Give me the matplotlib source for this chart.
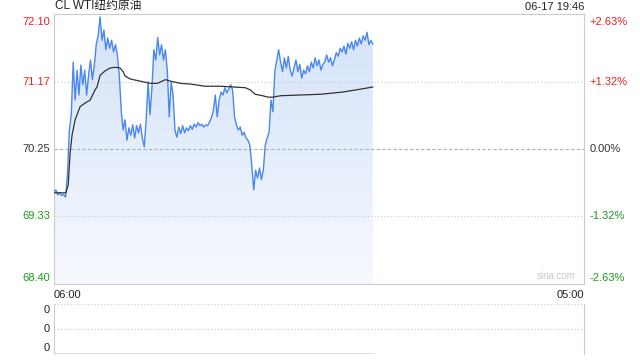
import numpy as np
import matplotlib
matplotlib.use("Agg")
import matplotlib.pyplot as plt
from matplotlib.patches import Polygon

plt.rcParams['font.family'] = ['Liberation Sans', 'Noto Sans CJK SC', 'DejaVu Sans']

# price every 5 minutes starting 06:00
prices = [69.66, 69.69, 69.62, 69.65, 69.61, 69.63, 69.59, 69.89, 70.51, 70.72,
          71.44, 70.92, 71.33, 70.99, 71.40, 71.13, 71.33, 70.99, 71.26, 71.47,
          71.20, 71.40, 71.68, 71.81, 72.06, 71.74, 71.88, 71.61, 71.77, 71.63,
          71.74, 71.58, 71.68, 71.54, 71.26, 70.78, 70.51, 70.65, 70.37, 70.54,
          70.44, 70.58, 70.40, 70.57, 70.47, 70.59, 70.40, 70.28, 70.65, 71.17,
          70.72, 71.09, 71.61, 71.47, 71.78, 71.54, 71.68, 71.47, 71.61, 71.33,
          70.69, 71.17, 70.99, 70.51, 70.41, 70.55, 70.46, 70.57, 70.47, 70.54,
          70.50, 70.57, 70.52, 70.59, 70.55, 70.61, 70.57, 70.59, 70.55, 70.58,
          70.57, 70.62, 70.68, 70.78, 70.99, 70.69, 70.92, 71.03, 70.99, 71.09,
          71.02, 71.07, 71.13, 71.06, 70.69, 70.58, 70.51, 70.55, 70.44, 70.48,
          70.40, 70.37, 70.30, 70.03, 69.69, 69.96, 69.85, 69.99, 69.83, 69.96,
          70.30, 70.40, 70.48, 70.92, 70.76, 71.31, 71.47, 71.61, 71.44, 71.31,
          71.50, 71.36, 71.52, 71.33, 71.25, 71.36, 71.47, 71.31, 71.41, 71.22,
          71.33, 71.28, 71.39, 71.31, 71.44, 71.36, 71.50, 71.39, 71.47, 71.33,
          71.41, 71.44, 71.54, 71.44, 71.50, 71.39, 71.47, 71.57, 71.52, 71.63,
          71.58, 71.66, 71.55, 71.70, 71.63, 71.72, 71.61, 71.74, 71.66, 71.77,
          71.69, 71.80, 71.74, 71.85, 71.68, 71.74, 71.69]
minutes = np.arange(len(prices)) * 5

# average price line (minutes since 06:00, price)
avg_minutes = [0, 31, 37, 42, 47, 55, 68, 81, 94, 107, 112, 120, 133, 146, 159, 172,
               180, 185, 198, 224, 250, 269, 290, 303, 329, 355, 394, 433, 467, 498,
               511, 524, 543, 558, 569, 590, 642, 694, 751, 798, 830]
avg_prices = [69.65, 69.65, 69.76, 70.20, 70.44, 70.65, 70.83, 70.88, 70.92, 71.06,
              71.10, 71.26, 71.32, 71.36, 71.37, 71.36, 71.31, 71.25, 71.21, 71.18,
              71.15, 71.15, 71.20, 71.18, 71.15, 71.14, 71.11, 71.11, 71.10, 71.09,
              71.06, 71.00, 70.98, 70.96, 70.96, 70.98, 70.99, 71.00, 71.03, 71.07,
              71.10]

left_labels = ['72.10', '71.17', '70.25', '69.33', '68.40']
left_values = [72.10, 71.17, 70.25, 69.33, 68.40]
right_labels = ['+2.63%', '+1.32%', '0.00%', '-1.32%', '-2.63%']
label_colors = ['#f0201c', '#f0201c', '#333333', '#1a9a1a', '#1a9a1a']

total_minutes = 1380  # 06:00 -> 05:00
ymin, ymax = 68.40, 72.10

fig = plt.figure(figsize=(6.4, 3.6), dpi=100)
ax = fig.add_axes([54 / 640, 76 / 360, 530 / 640, 270 / 360])
ax.set_xlim(0, total_minutes)
ax.set_ylim(ymin, ymax)

# gradient fill under the price line
grad = np.linspace(0, 1, 256).reshape(-1, 1)
img = ax.imshow(grad, extent=[0, total_minutes, ymin, ymax], origin='lower',
                aspect='auto', cmap=matplotlib.colors.LinearSegmentedColormap.from_list(
                    'g', ['#f6f9fe', '#d3e2f9']), zorder=1)
poly = Polygon(np.column_stack([np.r_[minutes[0], minutes, minutes[-1]],
                                np.r_[ymin, prices, ymin]]),
               closed=True, facecolor='none', edgecolor='none')
ax.add_patch(poly)
img.set_clip_path(poly)

ax.plot(minutes, prices, color='#4a88ee', lw=1.0, zorder=3)
ax.plot(avg_minutes, avg_prices, color='#333333', lw=0.9, zorder=4)

ax.axhline(71.17, color='#c8c8c8', lw=0.8, ls=(0, (1, 2)), zorder=2)
ax.axhline(69.33, color='#c8c8c8', lw=0.8, ls=(0, (1, 2)), zorder=2)
ax.axhline(70.25, color='#b0b0b0', lw=0.8, ls=(0, (3, 2)), zorder=2)

ax.set_xticks([])
ax.set_yticks([])
for s in ax.spines.values():
    s.set_color('#cccccc')
    s.set_linewidth(0.8)

for i, (v, lab, rl, c) in enumerate(zip(left_values, left_labels, right_labels, label_colors)):
    va = 'top' if i == 0 else ('bottom' if i == 4 else 'center')
    yoff = -2 if i == 0 else (1 if i == 4 else 0)
    ax.annotate(lab, (0, v), xycoords=('axes fraction', 'data'), xytext=(-3, yoff),
                textcoords='offset points', ha='right', va=va, fontsize=8, color=c)
    ax.annotate(rl, (1, v), xycoords=('axes fraction', 'data'), xytext=(4, yoff),
                textcoords='offset points', ha='left', va=va, fontsize=8, color=c)

ax.annotate('CL WTI纽约原油', (0, 1), xycoords='axes fraction', xytext=(1, 1.5),
            textcoords='offset points', ha='left', va='bottom', fontsize=8.5, color='#222222')
ax.annotate('06-17 19:46', (1, 1), xycoords='axes fraction', xytext=(0, 1.5),
            textcoords='offset points', ha='right', va='bottom', fontsize=8, color='#222222')
ax.text(0.0, -0.022, '06:00', transform=ax.transAxes, ha='left', va='top',
        fontsize=8, color='#222222')
ax.text(1.0, -0.022, '05:00', transform=ax.transAxes, ha='right', va='top',
        fontsize=8, color='#222222')
ax.text(0.985, 0.012, 'sina.com', transform=ax.transAxes, ha='right', va='bottom',
        fontsize=7, color='#c8c8c8')

# volume panel
ax2 = fig.add_axes([54 / 640, 6 / 360, 530 / 640, 50 / 360])
ax2.set_xlim(0, total_minutes)
ax2.set_ylim(0, 1)
for yv in [0, 0.5, 1]:
    ax2.axhline(yv, color='#c8c8c8', lw=0.8, ls=(0, (1, 2)))
ax2.plot([0, minutes[-1]], [0, 0], color='#555555', lw=1.0)
ax2.set_xticks([])
ax2.set_yticks([])
for yv, va, off in [(1, 'top', -1), (0.5, 'center', 0), (0, 'bottom', 1)]:
    ax2.annotate('0', (0, yv), xycoords=('axes fraction', 'data'), xytext=(-3, off),
                 textcoords='offset points', ha='right', va=va, fontsize=8, color='#222222')
ax2.spines['top'].set_visible(False)
ax2.spines['bottom'].set_visible(False)
ax2.spines['left'].set_color('#cccccc')
ax2.spines['right'].set_color('#cccccc')

fig.savefig('out.png', dpi=100)
